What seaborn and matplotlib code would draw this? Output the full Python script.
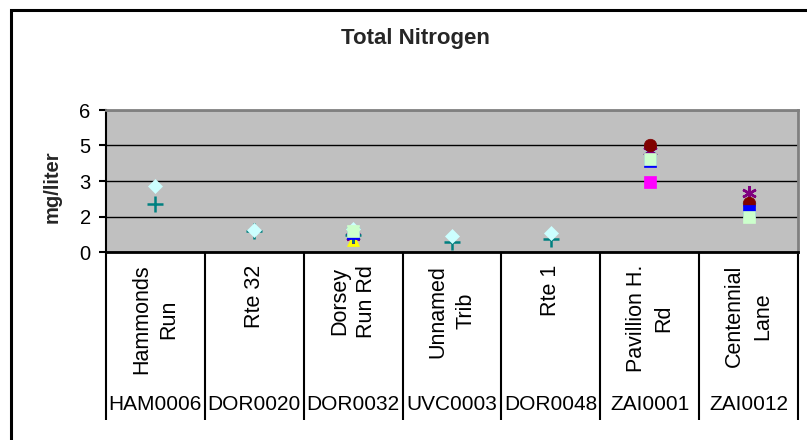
import numpy as np
import pandas as pd
import matplotlib
matplotlib.use("Agg")
import matplotlib.pyplot as plt
import seaborn as sns
from matplotlib.transforms import blended_transform_factory
from matplotlib.patches import Rectangle

# ---------------- data ----------------
codes = ["HAM0006", "DOR0020", "DOR0032", "UVC0003", "DOR0048", "ZAI0001", "ZAI0012"]
site_names = ["Hammonds\nRun", "Rte 32", "Dorsey\nRun Rd", "Unnamed\nTrib",
              "Rte 1", "Pavillion H.\nRd", "Centennial\nLane"]
yticks = [0, 1.5, 3, 4.5, 6]
ytick_labels = ["0", "2", "3", "5", "6"]
nan = np.nan

navy_diamond      = [nan, nan, 0.76, nan, nan, nan, nan]
magenta_square    = [nan, nan, nan, nan, nan, 2.94, nan]
yellow_triangle   = [nan, nan, 0.50, nan, nan, 4.20, 1.88]
cyan_x            = [nan, nan, 0.80, nan, nan, 4.35, 1.85]
purple_star       = [nan, nan, 0.68, nan, nan, 4.25, 2.49]
darkred_circle    = [nan, nan, nan, nan, nan, 4.53, 2.08]
teal_plus         = [2.03, 0.87, 0.72, 0.44, 0.55, nan, nan]
blue_square       = [nan, nan, 0.80, nan, nan, 3.84, 1.72]
turquoise_diamond = [2.79, 0.93, 0.97, 0.68, 0.79, nan, nan]
lightgreen_square = [nan, nan, 0.90, nan, nan, 3.92, 1.49]

series_values = [navy_diamond, magenta_square, yellow_triangle, cyan_x, purple_star,
                 darkred_circle, teal_plus, blue_square, turquoise_diamond, lightgreen_square]
series_colors = ["#000080", "#FF00FF", "#FFFF00", "#00FFFF", "#800080",
                 "#800000", "#008080", "#0000FF", "#CCFFFF", "#CCFFCC"]
series_markers = ["D", "s", "^", "x", (6, 2, 0), "o", "+", "s", "D", "s"]
series_msizes = [7.2, 9.0, 9.0, 8.5, 10.5, 9.0, 11.0, 9.0, 7.2, 9.0]
series_mews = [0.5, 0.5, 0.5, 1.8, 1.8, 0.5, 1.8, 0.5, 0.5, 0.5]

# ---------------- style ----------------
sns.set_style("white")
plt.rcParams['font.family'] = ['Liberation Sans', 'DejaVu Sans']

W, H = 807, 440
fig = plt.figure(figsize=(W / 100, H / 100), dpi=100)
fig.patch.set_facecolor("white")
ax = fig.add_axes([106 / W, 1 - 252 / H, (798 - 106) / W, 142 / H])
ax.set_facecolor("#C0C0C0")

for i, (vals, col, mk, ms, mew) in enumerate(zip(series_values, series_colors,
                                                 series_markers, series_msizes, series_mews)):
    df = pd.DataFrame({"site": codes, "value": vals}).dropna()
    sns.pointplot(data=df, x="site", y="value", order=codes, color=col, markers=mk,
                  linestyle="none", errorbar=None, markersize=ms, markeredgewidth=mew,
                  ax=ax, zorder=3 + i)

ax.set_xlim(-0.5, len(codes) - 0.5)
ax.set_ylim(0, 6)
ax.set_yticks(yticks)
ax.set_yticklabels(ytick_labels)
ax.yaxis.grid(True, color="black", lw=1)
ax.xaxis.grid(False)
ax.set_axisbelow(True)
ax.set_xlabel("")
ax.tick_params(axis="x", bottom=False, labelbottom=False)
ax.tick_params(axis="y", left=True, direction="out", length=5, width=1.5,
               color="black", labelsize=14.5, pad=6, labelcolor="black")

ax.spines["left"].set_color("black"); ax.spines["left"].set_linewidth(1.5)
ax.spines["bottom"].set_color("black"); ax.spines["bottom"].set_linewidth(2)
for s in ["top", "right"]:
    ax.spines[s].set_color("#808080"); ax.spines[s].set_linewidth(2)

ax.set_ylabel("mg/liter", fontsize=14.5, fontweight="bold")
ax.yaxis.set_label_coords(-0.0636, 0.46)

trans = blended_transform_factory(ax.transData, ax.transAxes)
bounds = np.arange(len(codes) + 1) - 0.5
ax.vlines(bounds, -1.183, 0, transform=trans, colors="black", lw=1.5, clip_on=False)

for i, (nm, cd) in enumerate(zip(site_names, codes)):
    ax.text(i, -0.09, nm, transform=trans, rotation=90, rotation_mode="anchor",
            ha="right", va="center", multialignment="center", linespacing=1.4,
            fontsize=15.5, color="black")
    ax.text(i, -1.077, cd, transform=trans, ha="center", va="center",
            fontsize=15, color="black")

fig.text(415 / W, 1 - 38 / H, "Total Nitrogen", ha="center", va="center",
         fontsize=16, fontweight="bold")

fig.add_artist(Rectangle((10.5 / W, -0.1), 1.2, 1 - 10.5 / H + 0.1,
                         transform=fig.transFigure, fill=False, ec="black",
                         lw=2.2, clip_on=False))

fig.savefig("out.png", dpi=100, facecolor="white")
